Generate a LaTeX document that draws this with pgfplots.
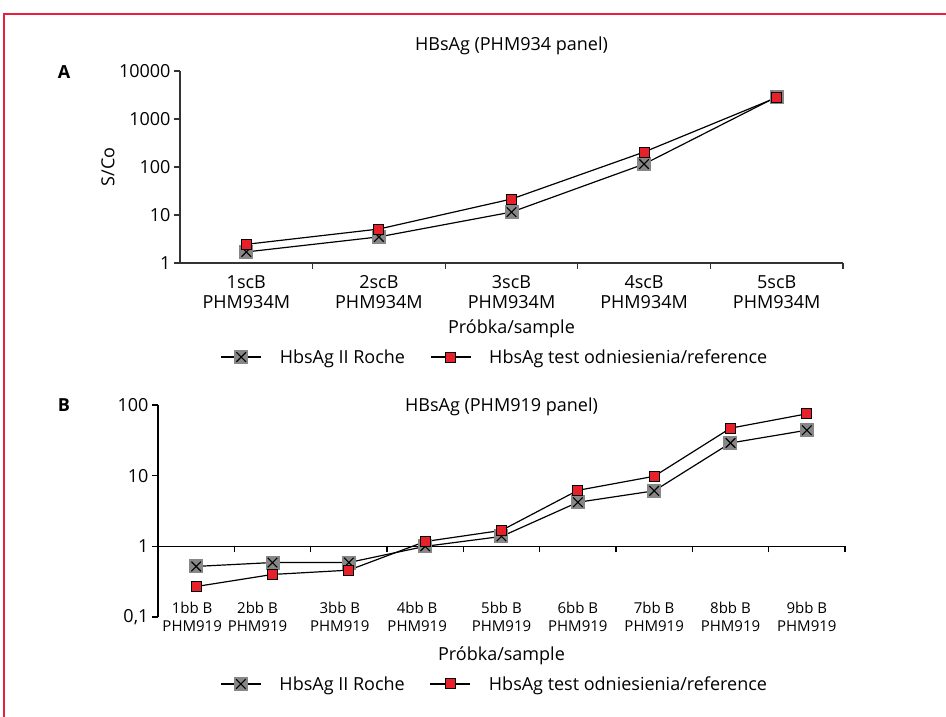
\documentclass[border=0pt]{standalone}
\usepackage{fontspec}
\setmainfont{Open Sans}
\usepackage{pgfplots}
\pgfplotsset{compat=1.18}
\definecolor{markgray}{HTML}{878787}
\definecolor{markred}{HTML}{E8202A}
\definecolor{framered}{HTML}{E8203F}
\definecolor{axcol}{HTML}{333333}

\pgfdeclareplotmark{grayx}{%
  \pgfpathrectangle{\pgfpoint{-\pgfplotmarksize}{-\pgfplotmarksize}}{\pgfpoint{2\pgfplotmarksize}{2\pgfplotmarksize}}%
  \pgfsetfillcolor{markgray}\pgfusepath{fill}%
  \pgfpathmoveto{\pgfpoint{-0.68\pgfplotmarksize}{-0.68\pgfplotmarksize}}%
  \pgfpathlineto{\pgfpoint{0.68\pgfplotmarksize}{0.68\pgfplotmarksize}}%
  \pgfpathmoveto{\pgfpoint{-0.68\pgfplotmarksize}{0.68\pgfplotmarksize}}%
  \pgfpathlineto{\pgfpoint{0.68\pgfplotmarksize}{-0.68\pgfplotmarksize}}%
  \pgfsetstrokecolor{black}\pgfusepath{stroke}%
}

\pgfplotsset{
  legend image code/.code={\draw[mark repeat=2,mark phase=2,#1] plot coordinates {(0pt,0pt)(20pt,0pt)(40pt,0pt)};},
}
\newcommand{\bl}[2][0pt]{\kern#1\begin{tabular}{@{}c@{}}#2\\PHM919\end{tabular}}

\begin{document}
\begin{tikzpicture}
\useasboundingbox (0pt,0pt) rectangle (946pt,716pt);
\draw[framered, line width=2pt] (4pt,-2pt) -- (4pt,702pt) -- (948pt,702pt);
\node[font=\fontsize{18}{20}\selectfont\bfseries] at (64pt,644pt) {A};
\node[font=\fontsize{18}{20}\selectfont\bfseries] at (64pt,311pt) {B};

% Panel A
\begin{axis}[
  scale only axis, ymode=log, xmin=0.5,
  axis y line=left, axis x line=bottom,
  axis line style={-, axcol, line width=1.3pt},
  tick style={axcol, line width=1.3pt},
  tick align=outside, major tick length=6pt, minor tick length=0pt,
  /pgf/number format/assume math mode=true,
  tick label style={font=\fontsize{18}{20}\selectfont},
  x tick label style={align=center, yshift=-9pt},
  label style={font=\fontsize{18}{20}\selectfont},
  title style={font=\fontsize{18}{20}\selectfont},
  clip=false,
  legend columns=2,
  at={(180pt,453pt)}, anchor=south west, width=663pt, height=192pt,
  xmax=5.5, ymin=1, ymax=10000,
  ytick={1,10,100,1000,10000}, yticklabels={1,10,100,1000,10000},
  xtick={1.5,2.5,3.5,4.5,5.5}, xticklabels={},
  extra x ticks={1,2,3,4,5},
  extra x tick labels={{1scB\\PHM934M},{2scB\\PHM934M},{3scB\\PHM934M},{4scB\\PHM934M},{5scB\\PHM934M}},
  extra x tick style={major tick length=0pt},
  title={HBsAg (PHM934 panel)},
  title style={at={(axis description cs:0.5,1)}, anchor=center, yshift=19pt},
  ylabel={S/Co},
  ylabel style={at={(axis description cs:-0.1086,0.5)}, anchor=center},
  xlabel={Próbka/sample},
  xlabel style={at={(axis description cs:0.5,-0.343)}, anchor=center},
  legend style={at={(axis description cs:0.475,-0.49)}, anchor=center, draw=none, fill=none,
    font=\fontsize{18}{20}\selectfont,
    /tikz/every even column/.append style={column sep=23pt},
    /tikz/every odd column/.append style={column sep=16pt}},
]
\addplot[black, line width=1.2pt, mark=grayx, mark size=7pt, mark options={line width=1.1pt}] coordinates {(1,1.7) (2,3.5) (3,11.5) (4,115) (5,2900)};
\addlegendentry{HbsAg II Roche}
\addplot[black, line width=1.2pt, mark=square*, mark size=5pt, mark options={fill=markred, draw=black, line width=1pt}] coordinates {(1,2.45) (2,5.1) (3,21.5) (4,205) (5,2800)};
\addlegendentry{HbsAg test odniesienia/reference}
\end{axis}

% Panel B
\begin{axis}[
  scale only axis, ymode=log, xmin=0.5,
  axis y line=left, axis x line=middle,
  axis line style={-, black, line width=1.3pt},
  tick style={black, line width=1.3pt},
  tick align=outside, major tick length=6pt, minor tick length=0pt,
  /pgf/number format/assume math mode=true,
  tick label style={font=\fontsize{18}{20}\selectfont},
  x tick label style={font=\fontsize{15}{18}\selectfont, anchor=north, yshift=-51pt},
  label style={font=\fontsize{18}{20}\selectfont},
  title style={font=\fontsize{18}{20}\selectfont},
  clip=false,
  legend columns=2,
  at={(158pt,99pt)}, anchor=south west, width=687pt, height=212pt,
  xmax=9.5, ymin=0.1, ymax=100,
  ytick={0.1,1,10,100}, yticklabels={{0,1},1,10,100},
  xtick={1.5,2.5,3.5,4.5,5.5,6.5,7.5,8.5,9.5}, xticklabels={},
  extra x ticks={1,2,3,4,5,6,7,8,9},
  extra x tick labels={{\bl[-8pt]{1bb B}},{\bl[-30pt]{2bb B}},{\bl[-18pt]{3bb B}},{\bl[-16pt]{4bb B}},{\bl{5bb B}},{\bl{6bb B}},{\bl{7bb B}},{\bl{8bb B}},{\bl{9bb B}}},
  extra x tick style={major tick length=0pt},
  title={HBsAg (PHM919 panel)},
  title style={at={(axis description cs:0.5,1)}, anchor=center, yshift=-8pt},
  xlabel={Próbka/sample},
  xlabel style={at={(axis description cs:0.5,-0.182)}, anchor=center},
  legend style={at={(axis description cs:0.49,-0.316)}, anchor=center, draw=none, fill=none,
    font=\fontsize{18}{20}\selectfont,
    /tikz/every even column/.append style={column sep=23pt},
    /tikz/every odd column/.append style={column sep=16pt}},
]
\addplot[black, line width=1.2pt, mark=grayx, mark size=7pt, mark options={line width=1.1pt}] coordinates {(1,0.52) (2,0.59) (3,0.59) (4,1.0) (5,1.38) (6,4.2) (7,6.1) (8,29) (9,44)};
\addlegendentry{HbsAg II Roche}
\addplot[black, line width=1.2pt, mark=square*, mark size=5pt, mark options={fill=markred, draw=black, line width=1pt}] coordinates {(1,0.27) (2,0.40) (3,0.46) (4,1.17) (5,1.68) (6,6.2) (7,9.8) (8,47) (9,75)};
\addlegendentry{HbsAg test odniesienia/reference}
\end{axis}
\end{tikzpicture}
\end{document}
